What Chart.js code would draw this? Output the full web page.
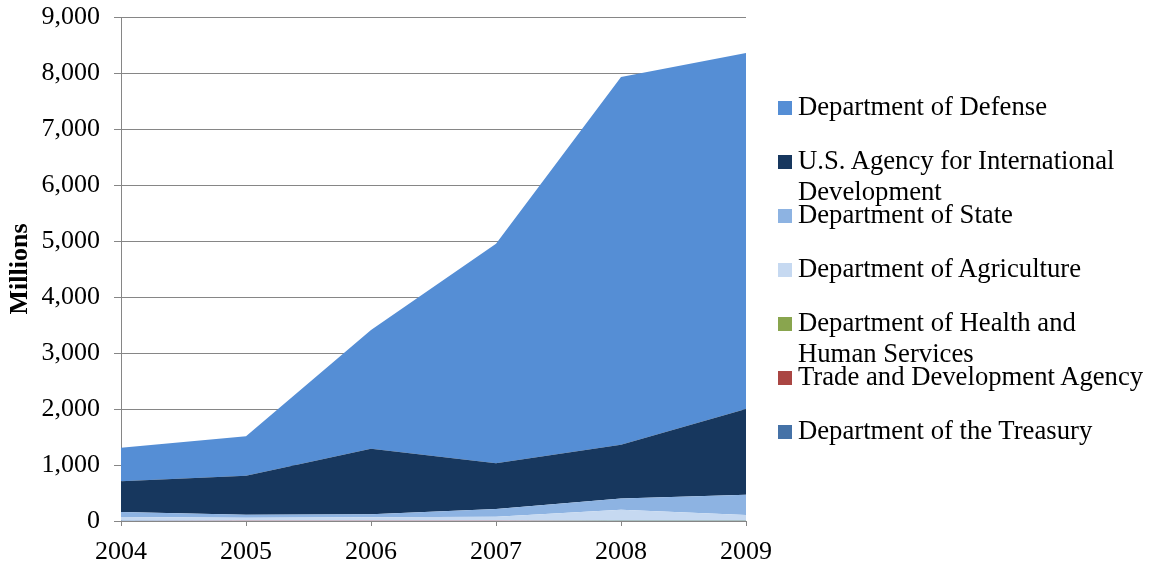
<!DOCTYPE html>
<html>
<head>
<meta charset="utf-8">
<script src="https://cdn.jsdelivr.net/npm/chart.js@4/dist/chart.umd.min.js"></script>
<style>
  html, body { margin: 0; padding: 0; background: #fff; }
  #wrap { position: relative; width: 1151px; height: 566px; }
  #c { position: absolute; left: 0; top: 0; }
  #legend { position: absolute; left: 0; top: 0; width: 1151px; height: 566px; pointer-events: none;
            font-family: "Liberation Serif", "Times New Roman", serif; font-size: 26.7px; color: #000; }
  .item { position: absolute; left: 778px; width: 373px; }
  .sw { position: absolute; left: 0; width: 14px; height: 14px; }
  .tx { position: absolute; left: 20px; width: 353px; line-height: 31px; white-space: normal; }
</style>
</head>
<body>
<div id="wrap">
  <canvas id="c" width="1151" height="566"></canvas>
  <div id="legend"></div>
</div>
<script>
const years = ["2004", "2005", "2006", "2007", "2008", "2009"];
const yTicks = [0, 1000, 2000, 3000, 4000, 5000, 6000, 7000, 8000, 9000];

// values in millions, per agency (stacked from the bottom up)
const treasury    = [3, 2, 2, 2, 3, 3];
const tda         = [1, 1, 1, 1, 1, 1];
const hhs         = [2, 2, 2, 3, 4, 4];
const agriculture = [64, 55, 60, 69, 192, 97];
const state       = [90, 50, 55, 140, 200, 365];
const usaid       = [550, 700, 1170, 815, 960, 1530];
const defense     = [600, 705, 2120, 3920, 6570, 6355];

const series = [
  { label: "Department of the Treasury", data: treasury, color: "#4572A7" },
  { label: "Trade and Development Agency", data: tda, color: "#AA4643" },
  { label: "Department of Health and Human Services", data: hhs, color: "#89A54E" },
  { label: "Department of Agriculture", data: agriculture, color: "#C6D9F1" },
  { label: "Department of State", data: state, color: "#8DB3E2" },
  { label: "U.S. Agency for International Development", data: usaid, color: "#17375E" },
  { label: "Department of Defense", data: defense, color: "#558ED5" }
];

const datasets = series.map((s, i) => ({
  label: s.label,
  data: s.data,
  backgroundColor: s.color,
  borderColor: s.color,
  borderWidth: 0,
  pointRadius: 0,
  fill: i === 0 ? 'origin' : '-1',
  tension: 0
}));

const serif = "'Liberation Serif', 'Times New Roman', serif";

new Chart(document.getElementById('c'), {
  type: 'line',
  data: { labels: years, datasets },
  options: {
    responsive: false,
    animation: false,
    devicePixelRatio: 1,
    layout: { padding: { left: 0, right: 405, top: 17, bottom: 0 } },
    plugins: { legend: { display: false }, tooltip: { enabled: false } },
    elements: { line: { borderWidth: 0 } },
    scales: {
      x: {
        offset: false,
        grid: { display: true, drawOnChartArea: false, drawTicks: true, tickLength: 5, color: '#868686', lineWidth: 1 },
        border: { color: '#868686', width: 1 },
        ticks: { color: '#000', font: { family: serif, size: 26 }, padding: 11, maxRotation: 0, autoSkip: false },
        afterFit: s => { s.height = 45; }
      },
      y: {
        stacked: true,
        min: 0, max: 9000,
        afterBuildTicks: s => { s.ticks = yTicks.map(v => ({ value: v })); },
        grid: { color: '#868686', lineWidth: 1, tickLength: 7, drawTicks: true },
        border: { color: '#868686', width: 1 },
        ticks: { color: '#000', font: { family: serif, size: 26, lineHeight: 0.1 }, padding: 14,
                 callback: v => v.toLocaleString('en-US') },
        title: { display: true, text: 'Millions', color: '#000', font: { family: serif, size: 26, weight: 'bold' }, padding: { top: 5, bottom: 0 } },
        afterFit: s => { s.width = 121; }
      }
    }
  }
});

// legend (top of the stack first)
const legend = document.getElementById('legend');
series.slice().reverse().forEach((s, i) => {
  const item = document.createElement('div');
  item.className = 'item';
  item.style.top = (91 + 54 * i) + 'px';
  const sw = document.createElement('div');
  sw.className = 'sw';
  sw.style.top = '10px';
  sw.style.background = s.color;
  const tx = document.createElement('div');
  tx.className = 'tx';
  tx.style.top = '0px';
  tx.textContent = s.label;
  item.appendChild(sw);
  item.appendChild(tx);
  legend.appendChild(item);
});
</script>
</body>
</html>
